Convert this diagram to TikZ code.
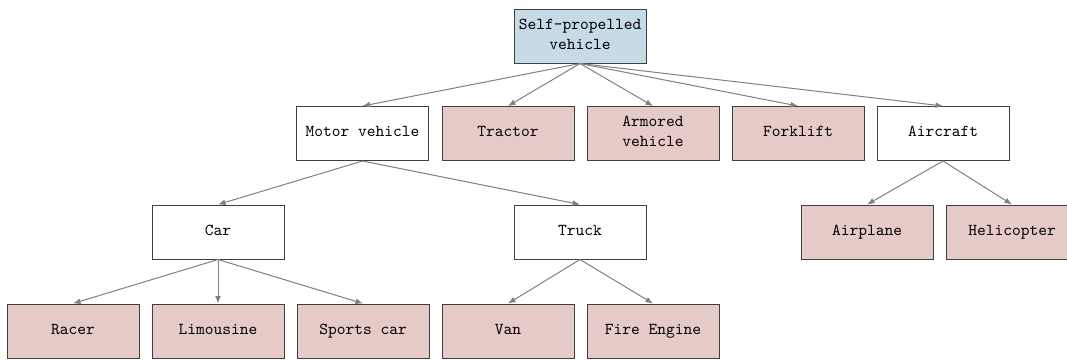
\documentclass[tikz,border=0pt]{standalone}
\usetikzlibrary{arrows.meta}
\definecolor{leafpink}{HTML}{E6CAC7}
\definecolor{rootblue}{HTML}{C6DBE6}
\definecolor{boxline}{HTML}{404040}
\definecolor{edgegray}{HTML}{808080}
\begin{document}
\begin{tikzpicture}[x=0.6pt,y=-0.6pt,
  box/.style={draw=boxline, line width=0.6pt, minimum width=79.2pt, minimum height=32.4pt,
    inner sep=1pt, align=center, font=\ttfamily, fill=white,
    execute at begin node={\vphantom{Ay}}},
  leaf/.style={box, fill=leafpink},
  rootbox/.style={box, fill=rootblue},
  edge/.style={draw=edgegray, line width=0.6pt, -{Latex[length=4.5pt,width=3.5pt]}}]
\useasboundingbox (0,0) rectangle (1067,359);
\node[rootbox] (root) at (580,36) {Self-propelled\\vehicle};
\node[box]  (motor) at (362.5,133.5) {Motor vehicle};
\node[leaf] (tractor) at (508,133.5) {Tractor};
\node[leaf] (armored) at (653,133.5) {Armored\\vehicle};
\node[leaf] (forklift) at (798,133.5) {Forklift};
\node[box]  (aircraft) at (943,133.5) {Aircraft};
\node[box]  (car) at (218,232) {Car};
\node[box]  (truck) at (580,232) {Truck};
\node[leaf] (airplane) at (867,232) {Airplane};
\node[leaf] (heli) at (1012,232) {Helicopter};
\node[leaf] (racer) at (73,331) {Racer};
\node[leaf] (limo) at (218,331) {Limousine};
\node[leaf] (sports) at (363,331) {Sports car};
\node[leaf] (van) at (508,331) {Van};
\node[leaf] (fire) at (653,331) {Fire Engine};
\foreach \c in {motor,tractor,armored,forklift,aircraft}
  \draw[edge] (root.south) -- (\c.north);
\foreach \c in {car,truck}
  \draw[edge] (motor.south) -- (\c.north);
\foreach \c in {airplane,heli}
  \draw[edge] (aircraft.south) -- (\c.north);
\foreach \c in {racer,limo,sports}
  \draw[edge] (car.south) -- (\c.north);
\foreach \c in {van,fire}
  \draw[edge] (truck.south) -- (\c.north);
\end{tikzpicture}
\end{document}
